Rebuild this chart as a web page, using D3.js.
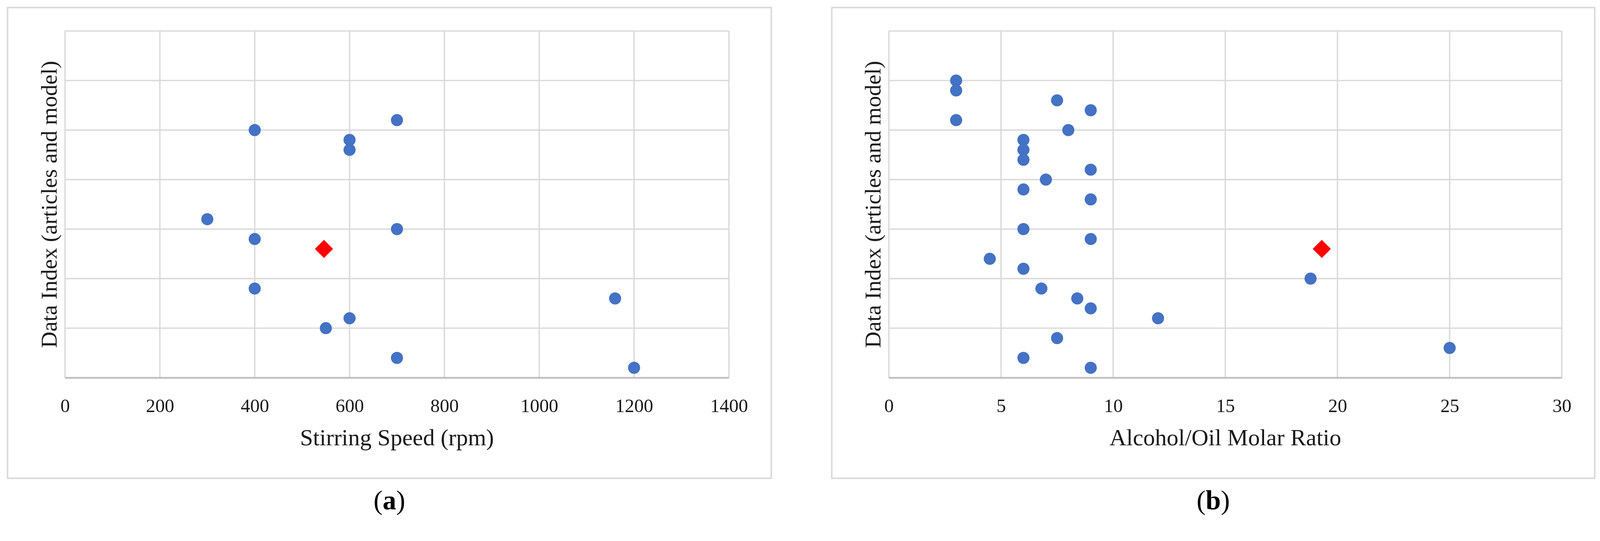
<!DOCTYPE html>
<html>
<head>
<meta charset="utf-8">
<script src="https://cdn.jsdelivr.net/npm/d3@7"></script>
<style>
	html, body { margin: 0; padding: 0; width: 100%; height: 100%; overflow: hidden; background: #fff; }
	svg { display: block; }
	text { font-family: 'Liberation Serif', 'Times New Roman', serif; }
</style>
</head>
<body>
<script>
// panel (a): stirring speed per data index
var speed_index = [1, 2, 5, 6, 8, 9, 14, 15, 16, 23, 24, 25, 26];
var speed_rpm = [1200, 700, 550, 600, 1160, 400, 400, 700, 300, 600, 600, 400, 700];
var speed_model = [546];

// panel (b): alcohol/oil molar ratio per data index
var ratio_index = [1, 2, 3, 4, 6, 7, 8, 9, 10, 11, 12, 14, 15, 18, 19, 20, 21, 22, 23, 24, 25, 26, 27, 28, 29, 30];
var ratio_value = [9, 6, 25, 7.5, 12, 9, 8.4, 6.8, 18.8, 6, 4.5, 9, 6, 9, 6, 7, 9, 6, 6, 6, 8, 3, 9, 7.5, 3, 3];
var ratio_model = [19.3];

var model_index = [13];

var speed_ticks = [0, 200, 400, 600, 800, 1000, 1200, 1400];
var ratio_ticks = [0, 5, 10, 15, 20, 25, 30];
var index_ticks = [0, 5, 10, 15, 20, 25, 30, 35];

function plot_it() {
	var width = 4232, height = 1385;
	// scale the drawing to whatever the window is, pinned to the top
	var svg = d3.select('body').append('svg')
		.attr('viewBox', '0 0 ' + width + ' ' + height)
		.attr('preserveAspectRatio', 'xMidYMin meet')
		.attr('width', '100%').attr('height', '100%');

	// shared vertical layout
	var box_top = 20, box_bottom = 1265;
	var plot_top = 82, plot_bottom = 999;

	var panels = [
		{ box: [20, 2040], plot: [172, 1928], ticks: speed_ticks, xs: speed_rpm, ys: speed_index, model: speed_model,
			title: 'Stirring Speed (rpm)', caption: 'a' },
		{ box: [2200, 4218], plot: [2351, 4131], ticks: ratio_ticks, xs: ratio_value, ys: ratio_index, model: ratio_model,
			title: 'Alcohol/Oil Molar Ratio', caption: 'b' }
	];

	panels.forEach(p => {
		var g = svg.append('g');

		// outer frame
		g.append('rect').attr('x', p.box[0]).attr('y', box_top)
			.attr('width', p.box[1] - p.box[0]).attr('height', box_bottom - box_top)
			.attr('fill', 'none').attr('stroke', '#d9d9d9').attr('stroke-width', 4);

		var x = d3.scaleLinear().domain([0, d3.max(p.ticks)]).range(p.plot);
		var y = d3.scaleLinear().domain([0, d3.max(index_ticks)]).range([plot_bottom, plot_top]);

		// grid lines
		g.selectAll('.vgrid').data(p.ticks).enter().append('line')
			.attr('x1', d => x(d)).attr('x2', d => x(d)).attr('y1', y(0)).attr('y2', y(35))
			.attr('stroke', '#d9d9d9').attr('stroke-width', 3.5);
		g.selectAll('.hgrid').data(index_ticks.slice(1)).enter().append('line')
			.attr('x1', p.plot[0]).attr('x2', p.plot[1]).attr('y1', d => y(d)).attr('y2', d => y(d))
			.attr('stroke', '#d9d9d9').attr('stroke-width', 3.5);

		// bottom axis line
		g.append('line').attr('x1', p.plot[0]).attr('x2', p.plot[1]).attr('y1', y(0) + 2).attr('y2', y(0) + 2)
			.attr('stroke', '#e3e3e3').attr('stroke-width', 4);
		g.append('line').attr('x1', p.plot[0]).attr('x2', p.plot[1]).attr('y1', y(0)).attr('y2', y(0))
			.attr('stroke', '#bdbdbd').attr('stroke-width', 4);

		// tick labels
		var axis = g.append('g').attr('transform', 'translate(0,' + y(0) + ')')
			.call(d3.axisBottom(x).tickValues(p.ticks).tickSize(0).tickPadding(56).tickFormat(d3.format('d')));
		axis.select('.domain').remove();
		axis.selectAll('text').attr('font-size', 50).attr('fill', '#1a1a1a')
			.attr('font-family', "'Liberation Serif', serif");

		// axis titles
		g.append('text').attr('x', (p.plot[0] + p.plot[1]) / 2).attr('y', 1178)
			.attr('text-anchor', 'middle').attr('font-size', 62).attr('fill', '#1a1a1a').text(p.title);
		g.append('text')
			.attr('transform', 'translate(' + (p.plot[0] - 22) + ',' + ((plot_top + plot_bottom) / 2) + ') rotate(-90)')
			.attr('text-anchor', 'middle').attr('font-size', 60).attr('fill', '#1a1a1a')
			.text('Data Index (articles and model)');

		// data points
		g.selectAll('.pt').data(p.xs).enter().append('circle')
			.attr('cx', d => x(d)).attr('cy', (d, i) => y(p.ys[i])).attr('r', 16)
			.attr('fill', '#4472c4');

		// model point
		g.selectAll('.model').data(p.model).enter().append('rect')
			.attr('x', -17).attr('y', -17).attr('width', 34).attr('height', 34)
			.attr('transform', (d, i) => 'translate(' + x(d) + ',' + y(model_index[i]) + ') rotate(45)')
			.attr('fill', '#ff0000');

		// caption
		var cap = g.append('text').attr('x', (p.box[0] + p.box[1]) / 2).attr('y', 1347)
			.attr('text-anchor', 'middle').attr('font-size', 72).attr('fill', '#000');
		cap.append('tspan').text('(');
		cap.append('tspan').attr('font-weight', 'bold').text(p.caption);
		cap.append('tspan').text(')');
	});
}
plot_it();
</script>
</body>
</html>
